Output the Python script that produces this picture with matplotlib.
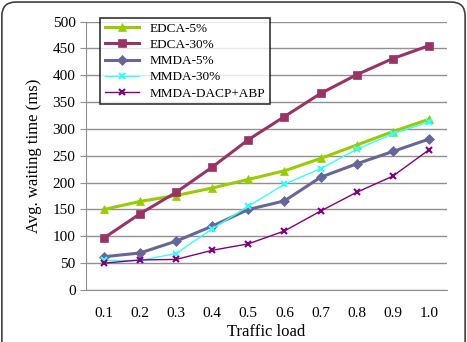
import matplotlib
matplotlib.use('Agg')
import matplotlib.pyplot as plt
from matplotlib.patches import FancyBboxPatch

# data
loads = ['0.1', '0.2', '0.3', '0.4', '0.5', '0.6', '0.7', '0.8', '0.9', '1.0']
edca_5 = [150, 165, 176, 190, 206, 222, 245, 270, 295, 318]
edca_30 = [97, 142, 182, 229, 280, 323, 366, 401, 431, 455]
mmda_5 = [62, 69, 91, 119, 150, 166, 210, 235, 258, 281]
mmda_30 = [55, 55, 68, 114, 156, 197, 226, 262, 291, 313]
mmda_dacp = [50, 56, 57, 74, 86, 110, 147, 182, 212, 261]

series_names = ['EDCA-5%', 'EDCA-30%', 'MMDA-5%', 'MMDA-30%', 'MMDA-DACP+ABP']
y_ticks = [0, 50, 100, 150, 200, 250, 300, 350, 400, 450, 500]

plt.rcParams['font.family'] = ['Liberation Serif', 'DejaVu Serif']

fig = plt.figure(figsize=(4.67, 3.42), dpi=100)
ax = fig.add_axes([0.184, 0.152, 0.773, 0.785])

# rounded frame around the whole figure
frame = FancyBboxPatch((0.004, -0.05), 0.992, 1.044, boxstyle='round,pad=0,rounding_size=0.03',
                       transform=fig.transFigure, fill=False, edgecolor='#404040', linewidth=1.2,
                       mutation_aspect=467 / 342)
fig.patches.append(frame)

x = range(len(loads))
styles = [
    (edca_5, '#99CC00', '^', 2.2, 6),
    (edca_30, '#993366', 's', 2.2, 6),
    (mmda_5, '#666699', 'D', 2.2, 5),
    (mmda_30, '#33FFFF', 'x', 1.0, 5),
    (mmda_dacp, '#800080', 'x', 1.0, 5),
]
for (vals, color, marker, lw, ms), name in zip(styles, series_names):
    ax.plot(x, vals, color=color, marker=marker, linewidth=lw, markersize=ms,
            markeredgewidth=1.5 if marker == 'x' else 0.5, label=name)

ax.set_xlim(-0.5, len(loads) - 0.5)
ax.set_ylim(0, 500)
ax.set_xticks(list(x))
ax.set_xticklabels(loads)
ax.set_yticks(y_ticks)
ax.yaxis.grid(True, color='#909090', linewidth=1.0)
ax.set_axisbelow(True)
for side in ['top', 'right']:
    ax.spines[side].set_visible(False)
ax.spines['left'].set_color('#909090')
ax.spines['bottom'].set_color('#909090')
ax.tick_params(axis='x', length=0, pad=12, labelsize=11)
ax.tick_params(axis='y', length=4, color='#909090', labelsize=11)

ax.set_xlabel('Traffic load', fontsize=12, labelpad=3)
ax.set_ylabel('Avg. waiting time (ms)', fontsize=12, labelpad=8)

leg = ax.legend(loc='upper left', bbox_to_anchor=(0.039, 1.013), borderaxespad=0,
                fontsize=9.5, frameon=True, fancybox=False, edgecolor='black',
                handlelength=2.6, borderpad=0.35, labelspacing=0.3, handletextpad=0.8)
leg.get_frame().set_linewidth(1.2)

fig.savefig('out.png', dpi=100)
